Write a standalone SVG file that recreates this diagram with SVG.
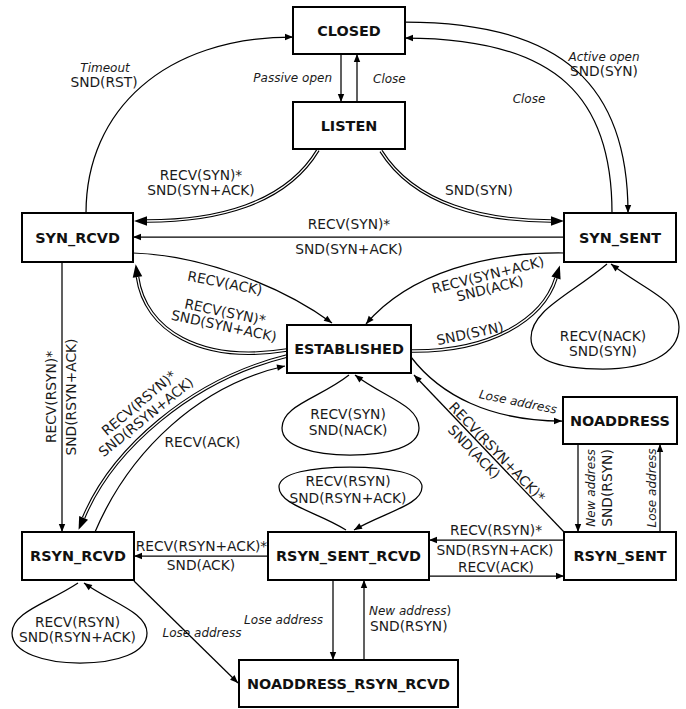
<svg xmlns="http://www.w3.org/2000/svg" width="686" height="709" viewBox="0 0 686 709">
  <style>
    .box { fill: #fff; stroke: #000; stroke-width: 2; }
    .nm { font-family: "DejaVu Sans", sans-serif; font-weight: bold; font-size: 14.4px; text-anchor: middle; fill: #111; }
    .lb { font-family: "DejaVu Sans", sans-serif; font-size: 13.8px; fill: #1a1a1a; }
    .it { font-family: "DejaVu Sans", sans-serif; font-size: 12px; font-style: italic; fill: #1a1a1a; }
    .c { text-anchor: middle; }
    .e { fill: none; stroke: #000; stroke-width: 1.25; }
    .d1 { fill: none; stroke: #000; stroke-width: 3.6; }
    .d2 { fill: none; stroke: #fff; stroke-width: 1.4; }
  </style>
  <defs>
    <!-- small arrowhead, tip at path end -->
    <marker id="ah" markerUnits="userSpaceOnUse" markerWidth="10" markerHeight="10" refX="0" refY="0" orient="auto" overflow="visible">
      <path d="M-8,-3.2 L0,0 L-8,3.2 z" fill="#000"/>
    </marker>
    <!-- large arrowhead for double lines, base at path end -->
    <marker id="dh" markerUnits="userSpaceOnUse" markerWidth="14" markerHeight="12" refX="0" refY="0" orient="auto" overflow="visible">
      <path d="M0,-4.8 L13,0 L0,4.8 z" fill="#000"/>
    </marker>
  </defs>
  <rect width="686" height="709" fill="#fff"/>

  <g id="connectors">
    <!-- CLOSED <-> LISTEN -->
    <path class="e" d="M341,54 V102" marker-end="url(#ah)"/>
    <text class="it" x="332" y="82" text-anchor="end">Passive open</text>
    <path class="e" d="M357,102 V54" marker-end="url(#ah)"/>
    <text class="it" x="373" y="83">Close</text>

    <!-- SYN_RCVD -> CLOSED -->
    <path class="e" d="M86,213 C86,110 165,37 293,37" marker-end="url(#ah)"/>
    <text class="it c" x="105" y="72">Timeout</text>
    <text class="lb c" x="104" y="87">SND(RST)</text>

    <!-- CLOSED -> SYN_SENT and back -->
    <path class="e" d="M405,22 C565,22 628,88 628,213" marker-end="url(#ah)"/>
    <text class="it c" x="604" y="61">Active open</text>
    <text class="lb c" x="604" y="76">SND(SYN)</text>
    <path class="e" d="M612,213 C612,100 560,38 405,38" marker-end="url(#ah)"/>
    <text class="it c" x="529" y="103">Close</text>

    <!-- LISTEN -> SYN_RCVD (double) -->
    <path class="d1" d="M318,150 C285,205 215,221 147,221"/>
    <path class="d2" d="M318,150 C285,205 215,221 147,221" marker-end="url(#dh)"/>
    <text class="lb c" x="201" y="179.5">RECV(SYN)*</text>
    <text class="lb c" x="201" y="194.5">SND(SYN+ACK)</text>

    <!-- LISTEN -> SYN_SENT (double) -->
    <path class="d1" d="M381,151 C415,205 485,221 551,221"/>
    <path class="d2" d="M381,151 C415,205 485,221 551,221" marker-end="url(#dh)"/>
    <text class="lb c" x="479" y="195">SND(SYN)</text>

    <!-- SYN_SENT -> SYN_RCVD -->
    <path class="e" d="M564,237 H133" marker-end="url(#ah)"/>
    <text class="lb c" x="349" y="229">RECV(SYN)*</text>
    <text class="lb c" x="349" y="254">SND(SYN+ACK)</text>

    <!-- SYN_RCVD -> ESTABLISHED -->
    <path class="e" d="M133,253 C200,255 280,285 332,323" marker-end="url(#ah)"/>
    <text class="lb c" transform="translate(225,283) rotate(11)" y="4.8">RECV(ACK)</text>

    <!-- ESTABLISHED -> SYN_RCVD (double) -->
    <path class="d1" d="M287,350 C200,364 145,330 137.5,277"/>
    <path class="d2" d="M287,350 C200,364 145,330 137.5,277" marker-end="url(#dh)"/>
    <text class="lb c" transform="translate(225,312) rotate(12)" y="4.8">RECV(SYN)*</text>
    <text class="lb c" transform="translate(224,326) rotate(12)" y="4.8">SND(SYN+ACK)</text>

    <!-- SYN_SENT -> ESTABLISHED -->
    <path class="e" d="M564,253 C490,252 410,272 366,324" marker-end="url(#ah)"/>
    <text class="lb c" transform="translate(488,275) rotate(-14)" y="4.8">RECV(SYN+ACK)</text>
    <text class="lb c" transform="translate(490,288.5) rotate(-14)" y="4.8">SND(ACK)</text>

    <!-- ESTABLISHED -> SYN_SENT (double) -->
    <path class="d1" d="M411,351 C490,352 543,320 556,278"/>
    <path class="d2" d="M411,351 C490,352 543,320 556,278" marker-end="url(#dh)"/>
    <text class="lb c" transform="translate(470,333.5) rotate(-12)" y="4.8">SND(SYN)</text>

    <!-- SYN_SENT self loop -->
    <path class="e" d="M607,264 C570,295 531,310 531,338 C531,362 565,369 603,369 C645,369 679,355 679,327 C679,300 645,290 611,264" marker-end="url(#ah)"/>
    <text class="lb c" x="603" y="341">RECV(NACK)</text>
    <text class="lb c" x="603" y="356">SND(SYN)</text>

    <!-- ESTABLISHED self loop -->
    <path class="e" d="M349,375 C320,398 282,405 282,428 C282,447 315,455 350,455 C388,455 419,447 419,428 C419,405 385,398 355,375" marker-end="url(#ah)"/>
    <text class="lb c" x="348" y="419">RECV(SYN)</text>
    <text class="lb c" x="348" y="435">SND(NACK)</text>

    <!-- ESTABLISHED -> NOADDRESS -->
    <path class="e" d="M411,357 C440,395 490,421 562,421" marker-end="url(#ah)"/>
    <text class="it c" transform="translate(518,402) rotate(11.5)" y="4">Lose address</text>

    <!-- RSYN_SENT -> ESTABLISHED -->
    <path class="e" d="M564,532 L414,375" marker-end="url(#ah)"/>
    <g transform="translate(489,453.5) rotate(46.3)">
      <text class="lb c" x="4.4" y="-2">RECV(RSYN+ACK)*</text>
      <text class="lb c" x="-11.5" y="14.6">SND(ACK)</text>
    </g>

    <!-- NOADDRESS <-> RSYN_SENT -->
    <path class="e" d="M578,444 V532" marker-end="url(#ah)"/>
    <text class="it c" transform="translate(590.5,488) rotate(-90)" y="4.4">New address</text>
    <text class="lb c" transform="translate(607,488) rotate(-90)" y="4.8">SND(RSYN)</text>
    <path class="e" d="M660,532 V444" marker-end="url(#ah)"/>
    <text class="it c" transform="translate(651.5,488) rotate(-90)" y="4.4">Lose address</text>

    <!-- SYN_RCVD -> RSYN_RCVD -->
    <path class="e" d="M62,262 V532" marker-end="url(#ah)"/>
    <text class="lb c" transform="translate(51,397) rotate(-90)" y="4.8">RECV(RSYN)*</text>
    <text class="lb c" transform="translate(71.5,397) rotate(-90)" y="4.8">SND(RSYN+ACK)</text>

    <!-- ESTABLISHED -> RSYN_RCVD (double) -->
    <path class="d1" d="M287,356 C190,380 112,450 83.6,517.8"/>
    <path class="d2" d="M287,356 C190,380 112,450 83.6,517.8" marker-end="url(#dh)"/>
    <text class="lb c" transform="translate(139,403) rotate(-40)" y="4.8">RECV(RSYN)*</text>
    <text class="lb c" transform="translate(146,417) rotate(-39)" y="4.8">SND(RSYN+ACK)</text>

    <!-- RSYN_RCVD -> ESTABLISHED -->
    <path class="e" d="M95,532 C130,450 200,385 285,366" marker-end="url(#ah)"/>
    <text class="lb c" x="202.5" y="447">RECV(ACK)</text>

    <!-- RSYN_SENT_RCVD -> RSYN_RCVD -->
    <path class="e" d="M268,556 H134" marker-end="url(#ah)"/>
    <text class="lb c" x="201.5" y="551">RECV(RSYN+ACK)*</text>
    <text class="lb c" x="201" y="570">SND(ACK)</text>

    <!-- RSYN_SENT <-> RSYN_SENT_RCVD -->
    <path class="e" d="M564,540 H429" marker-end="url(#ah)"/>
    <text class="lb c" x="496" y="535">RECV(RSYN)*</text>
    <text class="lb c" x="495" y="555">SND(RSYN+ACK)</text>
    <path class="e" d="M429,576 H564" marker-end="url(#ah)"/>
    <text class="lb c" x="496" y="572">RECV(ACK)</text>

    <!-- RSYN_SENT_RCVD self loop -->
    <path class="e" d="M346,530 C318,512 279,505 279,487 C279,473 312,467 350,467 C390,467 422,473 422,487 C422,505 385,512 354,530" marker-end="url(#ah)"/>
    <text class="lb c" x="348" y="486">RECV(RSYN)</text>
    <text class="lb c" x="348" y="503">SND(RSYN+ACK)</text>

    <!-- RSYN_RCVD self loop -->
    <path class="e" d="M78,583 C48,603 12,612 12,633 C12,653 45,663 80,663 C117,663 147,653 147,633 C147,612 112,603 84,583" marker-end="url(#ah)"/>
    <text class="lb c" x="77.5" y="627">RECV(RSYN)</text>
    <text class="lb c" x="77.5" y="642">SND(RSYN+ACK)</text>

    <!-- RSYN_RCVD -> NOADDRESS_RSYN_RCVD -->
    <path class="e" d="M134,581 L238,683" marker-end="url(#ah)"/>
    <text class="it c" x="202" y="637">Lose address</text>

    <!-- RSYN_SENT_RCVD <-> NOADDRESS_RSYN_RCVD -->
    <path class="e" d="M333,580 V660" marker-end="url(#ah)"/>
    <text class="it" x="323" y="624" text-anchor="end">Lose address</text>
    <path class="e" d="M364,660 V580" marker-end="url(#ah)"/>
    <text class="it" x="369" y="615">New address<tspan font-style="normal">)</tspan></text>
    <text class="lb" x="370" y="630.5">SND(RSYN)</text>
  </g>

  <g id="closed"><rect class="box" x="293" y="7" width="112" height="47"/><text class="nm" x="349" y="35.8">CLOSED</text></g>
  <g id="listen"><rect class="box" x="293" y="102" width="112" height="47"/><text class="nm" x="349" y="130.8">LISTEN</text></g>
  <g id="syn_rcvd"><rect class="box" x="22" y="213" width="111" height="49"/><text class="nm" x="77.5" y="242.8">SYN_RCVD</text></g>
  <g id="syn_sent"><rect class="box" x="564" y="213" width="112" height="49"/><text class="nm" x="620" y="242.8">SYN_SENT</text></g>
  <g id="established"><rect class="box" x="287" y="325" width="124" height="48"/><text class="nm" x="349" y="354.3">ESTABLISHED</text></g>
  <g id="noaddress"><rect class="box" x="563" y="397" width="114" height="47"/><text class="nm" x="620" y="425.8">NOADDRESS</text></g>
  <g id="rsyn_rcvd"><rect class="box" x="22" y="532" width="112" height="48"/><text class="nm" x="78" y="561.3">RSYN_RCVD</text></g>
  <g id="rsyn_sent_rcvd"><rect class="box" x="268" y="532" width="161" height="48"/><text class="nm" x="348.5" y="561.3">RSYN_SENT_RCVD</text></g>
  <g id="rsyn_sent"><rect class="box" x="564" y="532" width="112" height="48"/><text class="nm" x="620" y="561.3">RSYN_SENT</text></g>
  <g id="noaddress_rsyn_rcvd"><rect class="box" x="239" y="660" width="219" height="47"/><text class="nm" x="348.5" y="688.8">NOADDRESS_RSYN_RCVD</text></g>
</svg>
